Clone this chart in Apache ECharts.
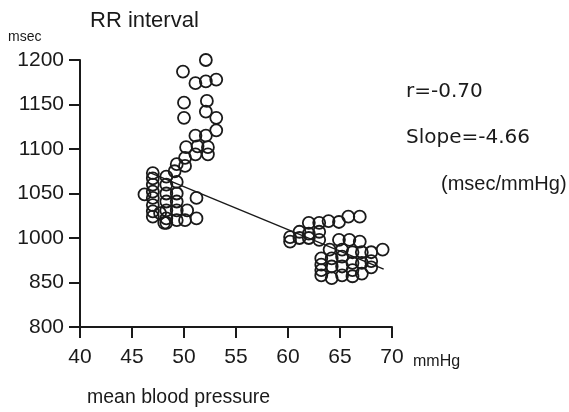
<!DOCTYPE html>
<html>
<head>
<meta charset="utf-8">
<script src="https://cdn.jsdelivr.net/npm/echarts@6/dist/echarts.min.js"></script>
<style>
html,body{margin:0;padding:0;background:#fff;}
#chart{width:569px;height:412px;}
</style>
</head>
<body>
<div id="chart"></div>
<script>
// Mean blood pressure (mmHg) and RR interval (msec, in axis position units)
const meanBP = [
  52.1,49.9,51.1,52.1,53.1,50.0,52.2,52.1,50.0,53.1,53.1,51.1,52.1,50.2,51.3,52.3,52.3,50.1,51.1,49.3,50.1,49.1,
  47.0,47.0,47.0,47.0,47.0,47.0,47.0,47.0,46.2,
  48.3,48.3,48.3,48.3,48.3,48.3,48.3,
  49.3,49.3,49.3,49.3,49.3,
  47.7,50.3,50.1,51.2,51.2,48.1,
  60.2,60.2,61.1,61.1,62.0,62.0,62.0,63.0,63.0,63.0,63.9,64.9,65.8,66.9,64.9,65.9,66.9,64.0,65.2,
  63.2,63.2,63.2,63.2,
  64.2,64.2,64.2,
  65.2,65.2,65.2,
  66.2,66.2,66.2,66.2,
  67.1,67.1,67.1,
  68.0,68.0,68.0,
  69.1
];
const rrInterval = [
  1200,1187,1174,1176,1178,1152,1154,1142,1135,1135,1121,1115,1115,1102,1103,1102,1094,1090,1094,1083,1081,1075,
  1073,1067,1060,1052,1045,1037,1030,1024,1049,
  1069,1060,1050,1041,1031,1022,1017,
  1063,1050,1041,1031,1020,
  1028,1031,1020,1045,1022,1017,
  1001,996,1007,1000,1017,1005,1000,1017,1007,998,1019,1018,1024,1024,998,998,996,987,987,
  977,970,964,958,
  977,968,955,
  979,968,958,
  984,972,964,957,
  984,972,960,
  984,974,967,
  987
];
// Regression line endpoints
const fitBP = [46.6, 69.2];
const fitRR = [1074, 965];
// Y tick positions and the labels printed at them
const yTickValues = [900, 950, 1000, 1050, 1100, 1150, 1200];
const yTickLabels = ['800', '850', '1000', '1050', '1100', '1150', '1200'];
const xTickLabels = ['40', '45', '50', '55', '60', '65', '70'];

const chart = echarts.init(document.getElementById('chart'), null, {renderer: 'canvas'});
const pts = meanBP.map((x, i) => [x, rrInterval[i]]);
const fit = fitBP.map((x, i) => [x, fitRR[i]]);
const ink = '#1a1a1a';
const font = '"Liberation Sans", Arial, sans-serif';

chart.setOption({
  animation: false,
  backgroundColor: '#fff',
  grid: {left: 80, right: 177, top: 60, bottom: 85, containLabel: false},
  xAxis: {
    type: 'value', min: 40, max: 70, interval: 5,
    axisLine: {show: true, lineStyle: {color: ink, width: 2}},
    axisTick: {show: true, length: 11, lineStyle: {color: ink, width: 2}},
    splitLine: {show: false},
    axisLabel: {
      margin: 20, color: ink, fontSize: 21, fontFamily: font,
      formatter: v => { const i = Math.round((v - 40) / 5); return xTickLabels[i] !== undefined ? xTickLabels[i] : ''; }
    }
  },
  yAxis: {
    type: 'value', min: 900, max: 1200, interval: 50,
    axisLine: {show: true, lineStyle: {color: ink, width: 2}},
    axisTick: {show: true, length: 11, lineStyle: {color: ink, width: 2}},
    splitLine: {show: false},
    axisLabel: {
      margin: 16, color: ink, fontSize: 21, fontFamily: font,
      formatter: v => { const i = yTickValues.indexOf(Math.round(v)); return i >= 0 ? yTickLabels[i] : ''; }
    }
  },
  series: [
    {
      type: 'line', data: fit, symbol: 'none', z: 1,
      lineStyle: {color: ink, width: 1.4}
    },
    {
      type: 'scatter', data: pts, symbol: 'circle', symbolSize: 12, z: 2,
      itemStyle: {color: 'rgba(255,255,255,0)', borderColor: ink, borderWidth: 1.8, opacity: 1}
    }
  ],
  graphic: [
    {type: 'text', left: 90, top: 10, style: {text: 'RR interval', fontSize: 22, fontFamily: font, fill: ink}},
    {type: 'text', left: 8, top: 30, style: {text: 'msec', fontSize: 14, fontFamily: font, fill: ink}},
    {type: 'text', left: 413, top: 354, style: {text: 'mmHg', fontSize: 16, fontFamily: font, fill: ink}},
    {type: 'text', left: 87, top: 388, style: {text: 'mean blood pressure', fontSize: 19.5, fontFamily: font, fill: ink}},
    {type: 'text', left: 406, top: 82, style: {text: 'r=-0.70', fontSize: 20, fontFamily: '"DejaVu Sans", sans-serif', fill: ink}},
    {type: 'text', left: 406, top: 128, style: {text: 'Slope=-4.66', fontSize: 20, fontFamily: '"DejaVu Sans", sans-serif', fill: ink}},
    {type: 'text', left: 441, top: 174, style: {text: '(msec/mmHg)', fontSize: 20, fontFamily: font, fill: ink}}
  ]
});
</script>
</body>
</html>
